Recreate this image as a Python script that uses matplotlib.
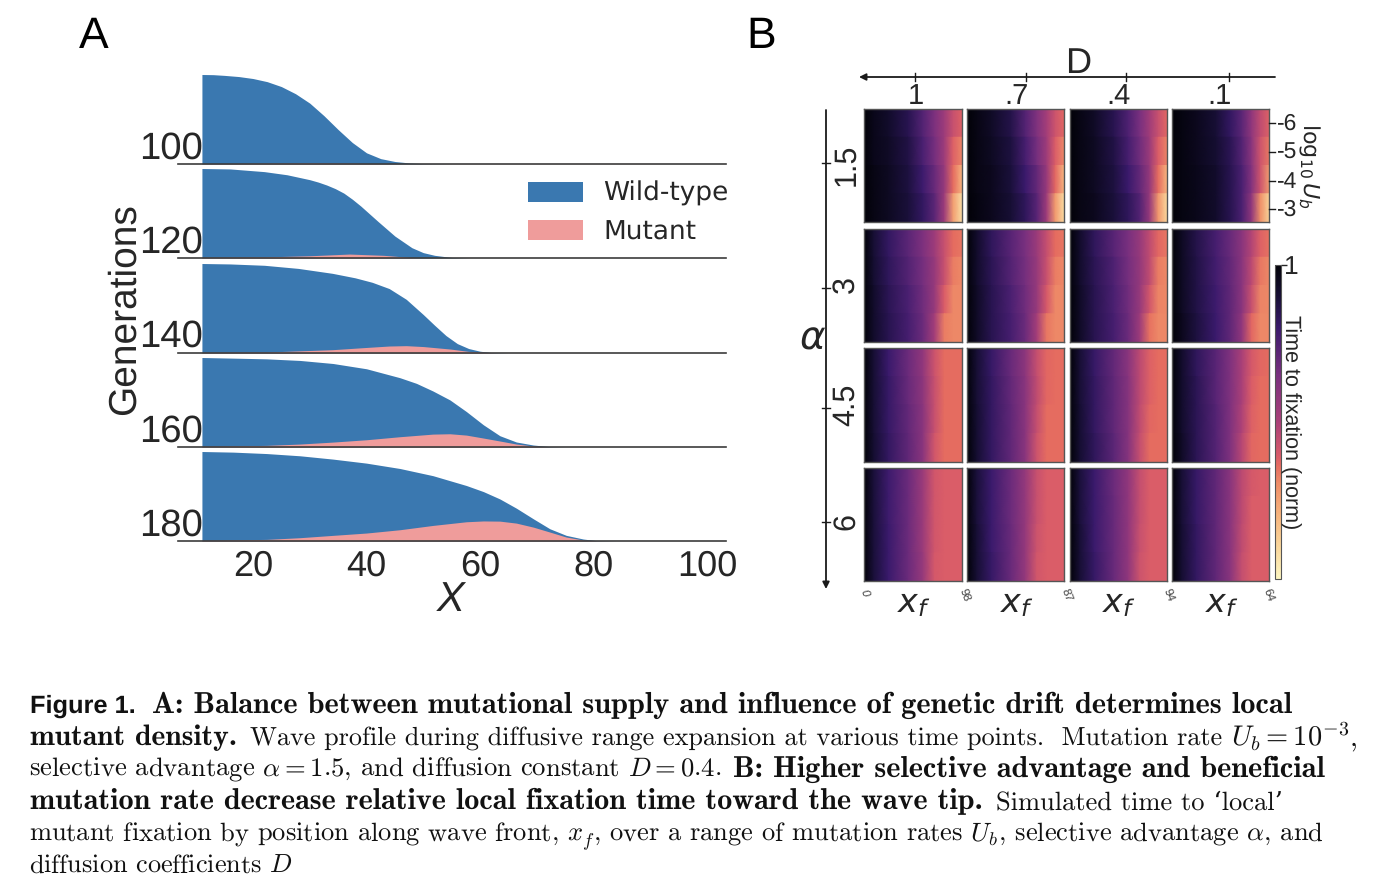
import numpy as np
import matplotlib
matplotlib.use('Agg')
import matplotlib.pyplot as plt
from matplotlib.cm import ScalarMappable
from matplotlib.colors import Normalize, LinearSegmentedColormap

W, H = 1376, 890
INK = '#262626'
plt.rcParams['font.family'] = ['Liberation Sans', 'DejaVu Sans']
plt.rcParams['text.hinting'] = 'no_hinting'

# ---- panel A: wave profiles (fraction of the full density) ----
generations = [100, 120, 140, 160, 180]

wt_x = [
    [11, 13, 15, 17.5, 20, 22.5, 25, 27.5, 30, 32.5, 35, 37.5, 40, 42.5, 45, 47.5, 50, 55, 100],
    [11, 16, 22, 26, 30, 31.5, 33, 34.5, 36, 37.5, 39, 42, 45, 48, 50, 52, 55, 58, 100],
    [11, 16, 22, 28, 34, 38, 41, 44, 47, 50, 52, 54, 56, 58, 60, 62, 65, 100],
    [11, 16.5, 22.4, 28.3, 34.1, 40, 45.9, 48.8, 51.7, 54.7, 57.6, 60.6, 63.5, 66.4, 69.4, 72.3, 75, 100],
    [11, 16.5, 22.4, 28.3, 34.1, 40, 45.9, 51.7, 57.6, 60.6, 63.5, 66.4, 69.4, 72.3, 75.2, 78.2, 80.5, 84, 100],
]
wt_y = [
    [1, .998, .99, .977, .955, .92, .865, .785, .68, .54, .385, .24, .125, .06, .028, .012, .004, 0, 0],
    [1, .995, .965, .93, .875, .848, .815, .775, .725, .657, .58, .41, .245, .115, .06, .03, .006, 0, 0],
    [1, .995, .98, .945, .89, .84, .79, .72, .60, .43, .31, .195, .105, .05, .02, .005, 0, 0],
    [1, .993, .985, .967, .933, .874, .774, .711, .626, .526, .396, .248, .126, .056, .022, .004, 0, 0],
    [1, .993, .977, .952, .915, .87, .81, .73, .62, .552, .47, .367, .248, .137, .063, .022, .004, 0, 0],
]
mut_x = [
    [11, 20, 30, 38, 45, 100],
    [11, 22, 30, 37, 43, 49, 100],
    [11, 22.5, 34, 40, 44, 47, 50, 54.8, 58, 63, 100],
    [11, 22.4, 28.3, 34.1, 40, 45.9, 51.7, 54.7, 57.6, 60.6, 63.5, 66.4, 69.4, 72.3, 100],
    [11, 22.4, 28.3, 34.1, 40, 45.9, 51.7, 57.6, 60.6, 63.5, 66.4, 69.4, 72.3, 75.2, 78.2, 80.5, 84, 100],
]
mut_y = [
    [.004, .008, .012, .008, .002, 0],
    [.007, .012, .025, .044, .03, 0, 0],
    [.007, .011, .037, .062, .078, .082, .072, .044, .018, 0, 0],
    [.007, .018, .033, .055, .081, .115, .144, .148, .133, .10, .067, .033, .011, 0, 0],
    [.007, .018, .037, .063, .089, .126, .174, .215, .224, .222, .2, .155, .10, .044, .011, .002, 0, 0],
]
baselines = [164, 258, 353, 447, 541]
gen_label_y = [149, 243, 337, 432, 526]
xticks = [20, 40, 60, 80, 100]

# ---- panel B: time to fixation, rows are log10 Ub = -6..-3 ----
D_labels = ['1', '.7', '.4', '.1']
alpha_labels = ['1.5', '3', '4.5', '6']
xf_max = ['98', '87', '94', '64']
Ub_labels = ['-6', '-5', '-4', '-3']
front_pos = [0, .1, .25, .45, .6, .72, .82, .91, 1]

a15_d1 = [[1, .96, .92, .85, .74, .64, .54, .43, .38],
          [1, .96, .93, .87, .76, .66, .54, .38, .32],
          [1, .97, .94, .88, .79, .69, .56, .36, .2],
          [1, .97, .94, .89, .82, .72, .54, .26, .08]]
a15_d7 = [[1, .97, .93, .86, .74, .63, .52, .42, .37],
          [1, .97, .94, .88, .77, .66, .54, .39, .31],
          [1, .97, .95, .89, .8, .7, .56, .37, .2],
          [1, .98, .95, .9, .83, .73, .54, .27, .09]]
a15_d4 = [[1, .97, .93, .85, .75, .65, .53, .43, .37],
          [1, .97, .94, .87, .77, .67, .55, .39, .32],
          [1, .97, .94, .88, .8, .7, .57, .36, .2],
          [1, .97, .95, .89, .83, .74, .56, .28, .1]]
a15_d1b = [[1, .98, .95, .9, .82, .72, .58, .45, .38],
           [1, .98, .95, .91, .84, .74, .6, .42, .34],
           [1, .98, .96, .92, .85, .76, .62, .42, .27],
           [1, .98, .96, .92, .85, .76, .58, .3, .12]]
a3_d1 = [[1, .9, .82, .72, .64, .54, .43, .36, .34],
         [1, .91, .83, .74, .66, .56, .43, .33, .31],
         [1, .92, .84, .76, .67, .56, .39, .31, .31],
         [1, .92, .85, .77, .68, .52, .33, .31, .31]]
a3_d7 = [[1, .92, .83, .73, .65, .55, .44, .36, .34],
         [1, .92, .84, .74, .66, .56, .43, .33, .31],
         [1, .93, .85, .76, .67, .56, .4, .31, .31],
         [1, .93, .85, .77, .68, .52, .34, .31, .31]]
a3_d4 = [[1, .92, .83, .73, .65, .56, .45, .37, .34],
         [1, .92, .84, .75, .66, .57, .45, .33, .31],
         [1, .93, .85, .76, .67, .56, .41, .32, .31],
         [1, .93, .85, .77, .68, .54, .35, .31, .31]]
a3_d1b = [[1, .94, .86, .77, .69, .6, .48, .38, .35],
          [1, .94, .87, .78, .7, .6, .46, .34, .31],
          [1, .94, .87, .79, .71, .6, .43, .32, .31],
          [1, .95, .88, .8, .71, .58, .37, .31, .31]]
a45_d1 = [[1, .9, .8, .68, .58, .42, .36, .36, .36],
          [1, .9, .81, .69, .59, .43, .36, .36, .36],
          [1, .9, .81, .7, .6, .43, .36, .36, .36],
          [1, .91, .82, .71, .6, .41, .36, .36, .36]]
a45_d7 = [[1, .9, .81, .69, .59, .44, .37, .36, .36],
          [1, .9, .82, .7, .6, .45, .37, .36, .36],
          [1, .91, .82, .71, .6, .44, .36, .36, .36],
          [1, .91, .82, .71, .6, .42, .36, .36, .36]]
a45_d4 = [[1, .9, .81, .7, .6, .46, .38, .36, .36],
          [1, .9, .82, .71, .61, .46, .38, .36, .36],
          [1, .91, .82, .71, .61, .45, .37, .36, .36],
          [1, .91, .83, .72, .61, .44, .36, .36, .36]]
a45_d1b = [[1, .92, .83, .73, .63, .5, .4, .37, .36],
           [1, .92, .84, .73, .63, .5, .39, .36, .36],
           [1, .92, .84, .74, .63, .49, .38, .36, .36],
           [1, .93, .84, .74, .63, .47, .37, .36, .36]]
a6_d1 = [[1, .89, .79, .68, .55, .41, .39, .39, .39],
         [1, .89, .79, .68, .55, .41, .39, .39, .39],
         [1, .89, .8, .68, .55, .41, .39, .39, .39],
         [1, .89, .8, .68, .56, .4, .39, .39, .39]]
a6_d7 = [[1, .89, .8, .68, .57, .43, .39, .39, .39],
         [1, .89, .8, .68, .57, .43, .39, .39, .39],
         [1, .9, .8, .69, .57, .42, .39, .39, .39],
         [1, .9, .81, .69, .57, .41, .39, .39, .39]]
a6_d4 = [[1, .89, .8, .68, .58, .44, .39, .39, .39],
         [1, .89, .8, .69, .58, .44, .39, .39, .39],
         [1, .9, .8, .69, .58, .43, .39, .39, .39],
         [1, .9, .81, .69, .58, .42, .39, .39, .39]]
a6_d1b = [[1, .9, .81, .71, .6, .46, .4, .39, .39],
          [1, .9, .81, .71, .6, .46, .39, .39, .39],
          [1, .91, .82, .71, .6, .45, .39, .39, .39],
          [1, .91, .82, .71, .6, .44, .39, .39, .39]]
heat = [[a15_d1, a15_d7, a15_d4, a15_d1b],
        [a3_d1, a3_d7, a3_d4, a3_d1b],
        [a45_d1, a45_d7, a45_d4, a45_d1b],
        [a6_d1, a6_d7, a6_d4, a6_d1b]]

# magma_r as it looks in the scan, a bit duller than the stock one
scan_cmap = LinearSegmentedColormap.from_list('scan_magma_r', [
    (0, '#fcf5c0'), (.1, '#fad79c'), (.2, '#f7b57e'), (.3, '#ef8e68'),
    (.36, '#e56c60'), (.39, '#d95c69'), (.5, '#aa4078'), (.65, '#79307f'),
    (.8, '#3a1a6c'), (.9, '#170f35'), (1, '#020208')])

fig = plt.figure(figsize=(W / 100, H / 100), dpi=100)


def px_axes(x0, y0, x1, y1, **kw):
    # axes from image pixel box
    return fig.add_axes([x0 / W, 1 - y1 / H, (x1 - x0) / W, (y1 - y0) / H], **kw)


over = px_axes(0, 0, W, H)
over.set_xlim(0, W)
over.set_ylim(H, 0)
over.axis('off')
over.set_zorder(5)


def label(x, y, s, size, ha='center', va='center', **kw):
    kw.setdefault('color', INK)
    return over.text(x, y, s, fontsize=size, ha=ha, va=va, **kw)


# ---- panel A ----
PX_PER_X = 5.675
for i, gen in enumerate(generations):
    base = baselines[i]
    x_left = 20 - (253 - 178) / PX_PER_X
    x_right = 20 + (726 - 253) / PX_PER_X
    ax = px_axes(178, base - 94, 726, base)
    ax.fill_between(wt_x[i], 0, wt_y[i], color='#3a78b0', lw=0)
    ax.fill_between(mut_x[i], 0, mut_y[i], color='#ef9c9b', lw=0)
    ax.set_xlim(x_left, x_right)
    ax.set_ylim(0, 94 / 89.5)
    ax.patch.set_alpha(0)
    for s in ['top', 'left', 'right']:
        ax.spines[s].set_visible(False)
    ax.spines['bottom'].set_color('#3c3c3c')
    ax.spines['bottom'].set_linewidth(1.2)
    ax.set_yticks([])
    ax.set_xticks([])
    label(203, gen_label_y[i], str(gen), 27.5, ha='right')
    if i == len(generations) - 1:
        for t in xticks:
            label(253 + (t - 20) * PX_PER_X, 566, str(t), 26)

label(125, 309, 'Generations', 28, rotation=90)
label(451, 600, 'X', 30, style='italic')
label(79, 37, 'A', 32, ha='left', color='black')
label(746, 37, 'B', 32, ha='left', color='black')
leg = px_axes(528, 182, 583, 240)
leg.axis('off')
leg.set_xlim(0, 1)
leg.set_ylim(0, 1)
leg.bar(0.5, 20 / 58, width=1, bottom=38 / 58, color='#3a78b0')
leg.bar(0.5, 20 / 58, width=1, bottom=0, color='#ef9c9b')
label(603, 193, 'Wild-type', 19, ha='left', family='DejaVu Sans')
label(603, 232, 'Mutant', 19, ha='left', family='DejaVu Sans')

# ---- panel B ----
col_x = [(864, 962), (967, 1064), (1070, 1167), (1172, 1269)]
row_y = [(109, 222), (229, 342), (348, 462), (468, 581)]
ydup = np.array([0, 1, 1, 2, 2, 3, 3, 4])
for r, (y0, y1) in enumerate(row_y):
    for c, (x0, x1) in enumerate(col_x):
        ax = px_axes(x0, y0, x1, y1)
        z = np.repeat(np.array(heat[r][c]), 2, axis=0)
        ax.pcolormesh(front_pos, ydup, z, cmap=scan_cmap, vmin=0, vmax=1, shading='gouraud')
        ax.set_ylim(4, 0)
        ax.set_xticks([])
        ax.set_yticks([])
        for s in ax.spines.values():
            s.set_color('#555555')
            s.set_linewidth(1.0)

cax = px_axes(1275, 265, 1281, 579)
cb = fig.colorbar(ScalarMappable(Normalize(0, 1), scan_cmap), cax=cax)
cb.set_ticks([1])
cb.set_ticklabels([])
cb.ax.tick_params(length=4, width=1, color=INK)
cb.outline.set_edgecolor('#555555')
cb.outline.set_linewidth(0.8)
label(1284, 267, '1', 19, ha='left')
label(1290, 422, 'Time to fixation (norm)', 15.5, rotation=-90)

# top D axis and left alpha axis
over.annotate('', xy=(859, 77), xytext=(1275, 77),
              arrowprops=dict(arrowstyle='-|>', color='#1a1a1a', lw=1.3, mutation_scale=10, shrinkA=0, shrinkB=0))
over.annotate('', xy=(826, 589), xytext=(826, 110),
              arrowprops=dict(arrowstyle='-|>', color='#1a1a1a', lw=1.3, mutation_scale=10, shrinkA=0, shrinkB=0))
label(1078, 64, 'D', 26)
for tx, lx, s in zip([915, 1026, 1126, 1229], [916, 1016, 1118, 1219], D_labels):
    over.plot([tx, tx], [73, 81], color='#1a1a1a', lw=1)
    label(lx, 96, s, 21)
for ty, ly, s in zip([163, 288, 408, 522], [165, 285, 405, 522], alpha_labels):
    over.plot([822, 830], [ty, ty], color='#1a1a1a', lw=1)
    label(846, ly, s, 22, rotation=90)
label(813, 339, r'$\alpha$', 28)
for ty, s in zip([123, 152, 181, 209], Ub_labels):
    over.plot([1269, 1275], [ty, ty], color='#1a1a1a', lw=1)
    label(1277, ty + 1, s, 16.5, ha='left')
label(1309, 166, r'$\log_{10}U_b$', 16, rotation=-90)
for xc, s, xt in zip([913, 1016, 1118, 1221], xf_max, [965, 1067, 1169, 1269]):
    label(xc + 1, 604, r'$x_f$', 24)
    label(xt, 595, s, 8.5, rotation=-70, color='#444444')
label(865, 593, '0', 8.5, rotation=-70, color='#444444', style='italic')

# ---- caption ----
renderer = fig.canvas.get_renderer()
REG = ['cmr10', 'DejaVu Serif']
BOLD = ['cmb10', 'DejaVu Serif']


def cap(x0, x1, base, s, family, **kw):
    # scale the size so the run spans the same width as in the paper
    t = over.text(x0, base, s, fontsize=18, ha='left', va='baseline', color='#111111',
                  family=family, math_fontfamily='cm', **kw)
    w = t.get_window_extent(renderer).width
    t.set_fontsize(18 * (x1 - x0) / w)


cap(30, 136, 713, 'Figure 1.', ['Liberation Sans', 'DejaVu Sans'], weight='bold')
cap(152, 1292, 713, 'A: Balance between mutational supply and influence of genetic drift determines local', BOLD)
cap(30, 237, 745, 'mutant density.', BOLD)
cap(250, 1222, 745, 'Wave profile during diffusive range expansion at various time points.  Mutation rate', REG)
cap(1231, 1358, 745, r'$U_b = 10^{-3},$', REG)
cap(29, 722, 777, r'selective advantage $\alpha = 1.5$, and diffusion constant $D = 0.4$.', REG)
cap(733, 1325, 777, 'B: Higher selective advantage and beneficial', BOLD)
cap(30, 983, 809, 'mutation rate decrease relative local fixation time toward the wave tip.', BOLD)
cap(996, 1283, 809, 'Simulated time to ‘local’', REG)
cap(29, 1324, 841, r'mutant fixation by position along wave front, $x_f$, over a range of mutation rates $U_b$, selective advantage $\alpha$, and', REG)
cap(29, 293, 873, r'diffusion coefficients $D$', REG)

fig.savefig('out.png', dpi=100)
